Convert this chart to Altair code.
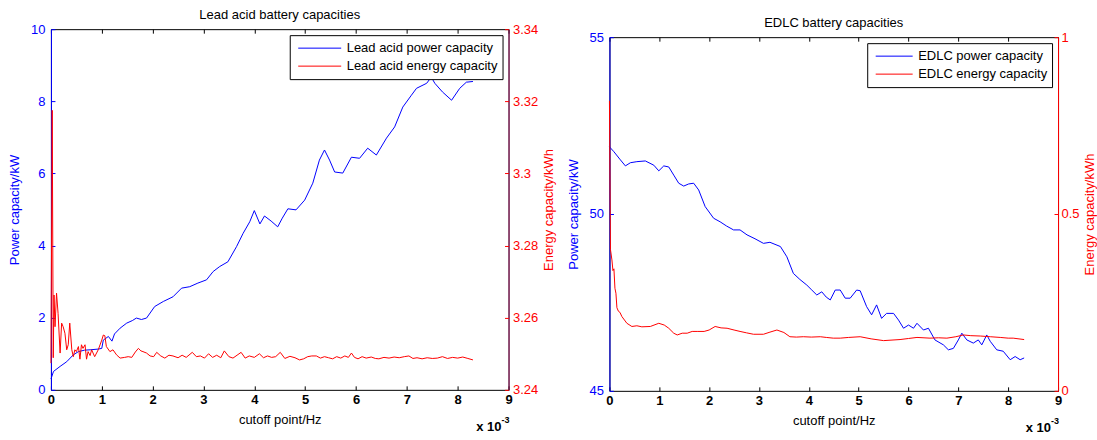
import altair as alt
import pandas as pd

# ---------------- data (x in units of 1e-3 Hz) ----------------
X_TICKS = [0, 1, 2, 3, 4, 5, 6, 7, 8, 9]
LA_POWER_TICKS = [0, 2, 4, 6, 8, 10]
LA_ENERGY_TICKS = [3.24, 3.26, 3.28, 3.3, 3.32, 3.34]
ED_POWER_TICKS = [45, 50, 55]
ED_ENERGY_TICKS = [0, 0.5, 1]
MULT_TEXT = ["x 10", "-3"]

LA_P_X = [0, 0.05, 0.18, 0.31, 0.44, 0.54, 0.66, 0.77, 0.93, 1.0,
          1.03, 1.13, 1.2, 1.25, 1.36, 1.49, 1.6, 1.68, 1.78, 1.88,
          2.04, 2.21, 2.4, 2.57, 2.73, 2.89, 3.06, 3.19, 3.32, 3.48,
          3.65, 3.78, 3.91, 4.0, 4.11, 4.2, 4.33, 4.46, 4.55, 4.66,
          4.82, 4.99, 5.15, 5.28, 5.38, 5.48, 5.58, 5.74, 5.91, 6.07,
          6.23, 6.4, 6.6, 6.76, 6.92, 7.09, 7.19, 7.39, 7.48, 7.55,
          7.7, 7.88, 8.04, 8.17, 8.3]
LA_P_V = [0.3, 0.51, 0.65, 0.78, 0.97, 1.06, 1.1, 1.11, 1.13, 1.15,
          1.38, 1.48, 1.35, 1.55, 1.71, 1.85, 1.92, 1.99, 1.95, 1.99,
          2.31, 2.45, 2.58, 2.82, 2.86, 2.96, 3.05, 3.28, 3.42, 3.55,
          3.97, 4.34, 4.66, 4.97, 4.6, 4.82, 4.68, 4.52, 4.76, 5.02,
          4.99, 5.26, 5.73, 6.37, 6.65, 6.37, 6.04, 6.01, 6.45, 6.42,
          6.7, 6.51, 6.98, 7.29, 7.84, 8.17, 8.36, 8.5, 8.67, 8.5,
          8.26, 8.03, 8.36, 8.53, 8.55]

LA_E_X = [0, 0.025, 0.045, 0.06, 0.08, 0.11, 0.14, 0.18, 0.21, 0.24,
          0.275, 0.31, 0.34, 0.37, 0.41, 0.44, 0.47, 0.5, 0.54, 0.57,
          0.6, 0.63, 0.67, 0.7, 0.73, 0.77, 0.8, 0.86, 0.93, 1.0,
          1.03, 1.06, 1.09, 1.16, 1.22, 1.29, 1.36, 1.45, 1.52, 1.59,
          1.66, 1.72, 1.77, 1.81, 1.88, 1.95, 2.02, 2.08, 2.16, 2.24,
          2.32, 2.4, 2.5, 2.58, 2.66, 2.78, 2.86, 2.94, 3.02, 3.1,
          3.18, 3.26, 3.34, 3.41, 3.5, 3.58, 3.66, 3.74, 3.82, 3.9,
          4.0, 4.1, 4.18, 4.26, 4.34, 4.42, 4.51, 4.6, 4.7, 4.8,
          4.89, 4.97, 5.05, 5.13, 5.22, 5.3, 5.38, 5.46, 5.54, 5.62,
          5.7, 5.78, 5.85, 5.91, 5.97, 6.04, 6.12, 6.2, 6.3, 6.38,
          6.45, 6.55, 6.65, 6.75, 6.85, 6.95, 7.04, 7.12, 7.2, 7.3,
          7.4, 7.5, 7.6, 7.7, 7.8, 7.9, 8.0, 8.1, 8.2, 8.3]
LA_E_V = [3.2474, 3.3175, 3.2489, 3.2663, 3.2575, 3.2668, 3.2612, 3.2502, 3.2585, 3.2575,
          3.2557, 3.2511, 3.2525, 3.2585, 3.2511, 3.2492, 3.2511, 3.2506, 3.2520, 3.2485,
          3.2525, 3.2515, 3.2525, 3.2485, 3.2506, 3.2495, 3.2511, 3.2492, 3.2511, 3.2538,
          3.2552, 3.2550, 3.2520, 3.2506, 3.2511, 3.2497, 3.2488, 3.2490, 3.2492, 3.2490,
          3.2505, 3.2515, 3.2508, 3.2506, 3.2502, 3.2494, 3.2492, 3.2504, 3.2494, 3.2488,
          3.2496, 3.2494, 3.2489, 3.2496, 3.2490, 3.2504, 3.2492, 3.2494, 3.2488, 3.2500,
          3.2490, 3.2496, 3.2489, 3.2508, 3.2492, 3.2488, 3.2496, 3.2504, 3.2488, 3.2494,
          3.2490, 3.2500, 3.2489, 3.2494, 3.2490, 3.2492, 3.2504, 3.2487, 3.2493, 3.2489,
          3.2483, 3.2486, 3.2492, 3.2494, 3.2494, 3.2488, 3.2492, 3.2489, 3.2486, 3.2492,
          3.2488, 3.2494, 3.2490, 3.2502, 3.2490, 3.2486, 3.2492, 3.2488, 3.2491, 3.2487,
          3.2486, 3.2490, 3.2488, 3.2491, 3.2489, 3.2492, 3.2494, 3.2487, 3.2489, 3.2486,
          3.2489, 3.2487, 3.2488, 3.2492, 3.2487, 3.2490, 3.2488, 3.2491, 3.2487, 3.2483]

ED_P_X = [0, 0.09, 0.22, 0.32, 0.42, 0.55, 0.72, 0.89, 0.99, 1.09,
          1.19, 1.29, 1.39, 1.49, 1.59, 1.69, 1.79, 1.92, 2.09, 2.22,
          2.35, 2.49, 2.62, 2.76, 2.92, 3.09, 3.22, 3.43, 3.56, 3.69,
          3.82, 3.96, 4.06, 4.16, 4.26, 4.35, 4.43, 4.53, 4.63, 4.73,
          4.83, 4.96, 5.03, 5.16, 5.26, 5.36, 5.46, 5.56, 5.7, 5.8,
          5.9, 6.0, 6.1, 6.17, 6.3, 6.4, 6.53, 6.7, 6.8, 6.9,
          7.0, 7.07, 7.17, 7.3, 7.4, 7.47, 7.57, 7.64, 7.77, 7.9,
          8.04, 8.14, 8.24, 8.32]
ED_P_V = [51.9, 51.76, 51.53, 51.36, 51.45, 51.48, 51.5, 51.38, 51.22, 51.36,
          51.33, 51.1, 50.87, 50.79, 50.85, 50.87, 50.68, 50.21, 49.88, 49.78,
          49.66, 49.55, 49.55, 49.41, 49.3, 49.17, 49.2, 49.08, 48.79, 48.32,
          48.15, 47.99, 47.85, 47.71, 47.8, 47.65, 47.57, 47.85, 47.85, 47.62,
          47.62, 47.85, 47.83, 47.38, 47.15, 47.43, 47.05, 47.19, 47.19, 47.0,
          46.77, 46.86, 46.77, 46.91, 46.72, 46.77, 46.44, 46.3, 46.16, 46.2,
          46.44, 46.63, 46.44, 46.35, 46.44, 46.3, 46.58, 46.4, 46.16, 46.12,
          45.88, 45.97, 45.88, 45.93]

ED_E_X = [0, 0.02, 0.05, 0.07, 0.09, 0.11, 0.13, 0.15, 0.18, 0.21,
          0.25, 0.35, 0.45, 0.55, 0.65, 0.82, 0.99, 1.1, 1.19, 1.29,
          1.36, 1.46, 1.56, 1.66, 1.76, 1.9, 2.0, 2.12, 2.24, 2.36,
          2.5, 2.62, 2.75, 2.89, 3.09, 3.22, 3.36, 3.5, 3.62, 3.75,
          3.89, 4.05, 4.23, 4.35, 4.49, 4.63, 4.8, 5.03, 5.25, 5.5,
          5.83, 6.0, 6.17, 6.43, 6.6, 6.77, 6.95, 7.1, 7.25, 7.44,
          7.64, 7.84, 8.0, 8.1, 8.32]
ED_E_V = [0.82, 0.40, 0.37, 0.34, 0.345, 0.29, 0.276, 0.235, 0.225, 0.222,
          0.21, 0.191, 0.182, 0.184, 0.181, 0.182, 0.191, 0.186, 0.177, 0.163,
          0.158, 0.163, 0.163, 0.168, 0.168, 0.168, 0.172, 0.182, 0.178, 0.177,
          0.172, 0.168, 0.164, 0.16, 0.16, 0.166, 0.172, 0.165, 0.153, 0.152,
          0.153, 0.152, 0.153, 0.151, 0.149, 0.149, 0.151, 0.153, 0.147, 0.142,
          0.145, 0.148, 0.151, 0.149, 0.15, 0.149, 0.153, 0.158, 0.156, 0.155,
          0.153, 0.151, 0.149, 0.149, 0.145]

BLUE = "#0000ff"
RED = "#ff0000"
FS = 13
TICK = 4


def panel(title, px, pv, ex, ev, pname, ename, pdom, pticks, edom, eticks,
          w, h, right_dom_color, sym_len, lpad_l, tpad_l, lpad_r, tpad_r):
    dp = pd.DataFrame({"x": px, "v": pv, "s": pname})
    de = pd.DataFrame({"x": ex, "v": ev, "s": ename})
    xs = alt.Scale(domain=[0, 9], nice=False, zero=False)
    ps = alt.Scale(domain=pdom, nice=False, zero=False)
    es = alt.Scale(domain=edom, nice=False, zero=False)
    color = alt.Color(
        "s:N",
        scale=alt.Scale(domain=[pname, ename], range=[BLUE, RED]),
        legend=alt.Legend(
            title=None, orient="top-right", offset=6, symbolType="stroke",
            symbolSize=sym_len * sym_len, symbolStrokeWidth=1, clipHeight=18,
            labelFontSize=FS, labelColor="black", padding=4, strokeColor="black",
            fillColor="white", labelOffset=5, rowPadding=0, symbolOffset=4,
            labelLimit=400),
    )
    l1 = alt.Chart(dp).mark_line(strokeWidth=1).encode(
        x=alt.X("x:Q", scale=xs, axis=alt.Axis(
            orient="bottom", values=X_TICKS, title="cutoff point/Hz", ticks=False,
            domain=False, grid=False, labelFontSize=FS, labelFontWeight="bold",
            labelColor="black", labelPadding=4, labelFlush=False, labelOverlap=False,
            titleFontSize=FS, titleFontWeight="normal", titleColor="black",
            titlePadding=7)),
        y=alt.Y("v:Q", scale=ps, axis=alt.Axis(
            orient="left", values=pticks, title="Power capacity/kW", ticks=False,
            domain=True, domainColor=BLUE, grid=False, labelFontSize=FS,
            labelColor=BLUE, labelPadding=lpad_l, labelFlush=False,
            labelOverlap=False, format="~r", titleFontSize=FS,
            titleFontWeight="normal", titleColor=BLUE, titlePadding=tpad_l)),
        color=color,
    )
    l2 = alt.Chart(de).mark_line(strokeWidth=1).encode(
        x=alt.X("x:Q", scale=xs, axis=None),
        y=alt.Y("v:Q", scale=es, axis=alt.Axis(
            orient="right", values=eticks, title="Energy capacity/kWh", ticks=False,
            domain=True, domainColor=right_dom_color, grid=False, labelFontSize=FS,
            labelColor=RED, labelPadding=lpad_r, labelFlush=False,
            labelOverlap=False, format="~r", titleFontSize=FS,
            titleFontWeight="normal", titleColor=RED, titlePadding=tpad_r,
            titleAngle=270, titleBaseline="top")),
        color=color,
    )
    # inward tick marks (blue scale + top x ticks)
    l3 = alt.Chart(dp).mark_line(opacity=0).encode(
        x=alt.X("x:Q", scale=xs, axis=alt.Axis(
            orient="top", values=X_TICKS, offset=-TICK, tickSize=TICK, labels=False,
            domain=False, grid=False, title=None, tickColor="black")),
        y=alt.Y("v:Q", scale=ps, axis=alt.Axis(
            orient="left", values=pticks, offset=-TICK, tickSize=TICK, labels=False,
            domain=False, grid=False, title=None, tickColor=BLUE)),
    )
    # inward tick marks (red scale + bottom x ticks)
    l4 = alt.Chart(de).mark_line(opacity=0).encode(
        x=alt.X("x:Q", scale=xs, axis=alt.Axis(
            orient="bottom", values=X_TICKS, offset=-TICK, tickSize=TICK, labels=False,
            domain=False, grid=False, title=None, tickColor="black")),
        y=alt.Y("v:Q", scale=es, axis=alt.Axis(
            orient="right", values=eticks, offset=-TICK, tickSize=TICK, labels=False,
            domain=False, grid=False, title=None, tickColor=RED)),
    )
    t1 = alt.Chart(pd.DataFrame({"t": [MULT_TEXT[0]]})).mark_text(
        align="right", baseline="middle", fontSize=FS, fontWeight="bold",
        color="black").encode(text="t:N", x=alt.value(w - 7), y=alt.value(h + 37))
    t2 = alt.Chart(pd.DataFrame({"t": [MULT_TEXT[1]]})).mark_text(
        align="left", baseline="middle", fontSize=9, fontWeight="bold",
        color="black").encode(text="t:N", x=alt.value(w - 7), y=alt.value(h + 30))
    return (
        alt.layer(l1, l2, l3, l4, t1, t2)
        .resolve_scale(y="independent")
        .resolve_axis(x="independent", y="independent")
        .properties(width=w, height=h, title=title)
    )


def spacer(h):
    # empty, invisible block used only to shift a panel vertically
    return alt.Chart(pd.DataFrame({"a": [0]})).mark_point(
        size=1, opacity=0).properties(
        width=1, height=h, view=alt.ViewBackground(stroke="transparent"))


left = panel(
    alt.TitleParams(text="Lead acid battery capacities", fontSize=FS,
                    fontWeight="normal", color="black", offset=1),
    LA_P_X, LA_P_V, LA_E_X, LA_E_V,
    "Lead acid power capacity", "Lead acid energy capacity",
    [0, 10], LA_POWER_TICKS, [3.24, 3.34], LA_ENERGY_TICKS,
    458, 361, "#a01a66", 43, 6, 9, 4, 5)

right = panel(
    alt.TitleParams(text="EDLC battery capacities", fontSize=FS,
                    fontWeight="normal", color="black", offset=1),
    ED_P_X, ED_P_V, ED_E_X, ED_E_V,
    "EDLC power capacity", "EDLC energy capacity",
    [45, 55], ED_POWER_TICKS, [0, 1], ED_ENERGY_TICKS,
    449, 354, RED, 37, 6, 9, 3, 4)

chart = (
    alt.hconcat(
        alt.vconcat(spacer(2), left, spacing=0).resolve_scale(color="independent")
        .resolve_legend(color="independent"),
        alt.vconcat(spacer(10), right, spacing=0).resolve_scale(color="independent")
        .resolve_legend(color="independent"),
        spacing=10,
    )
    .resolve_scale(color="independent")
    .resolve_legend(color="independent")
    .properties(padding={"left": 8, "top": 4, "right": 0, "bottom": 0},
                background="white")
    .configure(font="Liberation Sans")
    .configure_view(stroke="black", strokeWidth=1)
)

chart.save("out.html", embed_options={"renderer": "svg", "actions": False})
